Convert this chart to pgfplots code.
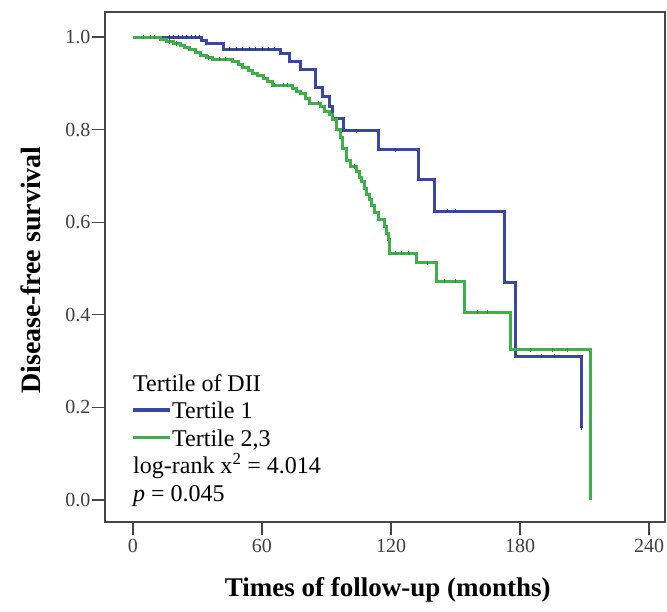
\documentclass[border=0pt]{standalone}
\usepackage{fontspec}
\setmainfont{Liberation Serif}
\usepackage{pgfplots}
\pgfplotsset{compat=1.18}

\definecolor{tblue}{RGB}{56,72,160}
\definecolor{tgreen}{RGB}{62,176,74}
\definecolor{frame}{RGB}{70,70,70}

\begin{document}
\begin{tikzpicture}[x=1pt,y=1pt]
\useasboundingbox (-105pt,-89pt) rectangle (562pt,522pt);
\begin{axis}[
  at={(0pt,0pt)}, anchor=south west,
  scale only axis,
  width=560pt, height=510pt,
  xmin=-13, xmax=247.4,
  ymin=-0.0475, ymax=1.054,
  xtick={0,60,120,180,240},
  ytick={0,0.2,0.4,0.6,0.8,1.0},
  yticklabel style={/pgf/number format/fixed, /pgf/number format/fixed zerofill,
    /pgf/number format/precision=1, xshift=2pt},
  /pgf/number format/assume math mode=true,
  tick align=outside,
  tick pos=left,
  major tick length=13pt,
  every tick/.style={frame, line width=1.3pt},
  axis line style={frame, line width=1.4pt},
  tick label style={font=\fontsize{20}{23}\selectfont, color=black!75},
  xticklabel style={yshift=-1pt},
  xlabel={Times of follow-up (months)},
  ylabel={Disease-free survival},
  xlabel style={font=\fontsize{27}{30}\selectfont\bfseries,
    at={(axis description cs:0.505,-0.133)}, anchor=center},
  ylabel style={font=\fontsize{28}{30}\selectfont\bfseries,
    at={(axis description cs:-0.132,0.494)}, anchor=center},
  clip=false,
]
% Tertile 1
\addplot[const plot, tblue, line width=3pt] coordinates {
  (0,1.0) (32,0.993) (34,0.987) (42,0.974) (68.4,0.965) (73,0.947)
  (77.7,0.929) (85,0.892) (88,0.871) (91.6,0.849) (93,0.824) (98,0.797)
  (114,0.756) (132.6,0.693) (140,0.624) (172.6,0.469) (177.7,0.311)
  (208.7,0.156)
};
% Tertile 2,3
\addplot[const plot, tgreen, line width=3pt] coordinates {
  (0,1.0) (12.6,0.995) (15.7,0.99) (19,0.986) (21.9,0.981) (24,0.977)
  (26.5,0.972) (29,0.966) (31.2,0.961) (34,0.956) (37.2,0.952) (46.5,0.947)
  (49,0.94) (51,0.935) (53.5,0.928) (55.8,0.922) (58,0.916) (60.5,0.911)
  (62.5,0.904) (64.7,0.896) (74,0.889) (76,0.883) (77.7,0.877) (80,0.867)
  (82.3,0.857) (87,0.849) (89,0.840) (91.6,0.832) (93,0.821) (94.5,0.80)
  (96.3,0.784) (97.5,0.76) (99.5,0.734) (101,0.72) (104,0.709) (105.2,0.697)
  (106.5,0.687) (107.7,0.672) (108.8,0.659) (110,0.648) (111,0.637)
  (112.5,0.62) (114,0.605) (117,0.59) (118,0.575) (118.6,0.562)
  (119.5,0.533) (132,0.512) (141,0.473) (154,0.406) (175.6,0.324)
  (212.9,0.0)
};
% censored
\addplot[only marks, mark=|, mark size=2.2pt, tblue!80!black, line width=0.8pt] coordinates {
  (17,1)(19,1)(21,1)(23,1)(25,1)(27,1)(29,1)(31,1)
  (45,0.974)(48,0.974)(51,0.974)(54,0.974)(57,0.974)(60,0.974)(63,0.974)(66,0.974)
  (104,0.797)(122,0.756)(146,0.624)(150,0.624)(190,0.311)(196,0.311)(208.7,0.156)
};
\addplot[only marks, mark=|, mark size=2.2pt, tgreen!80!black, line width=0.8pt] coordinates {
  (5,1)(8,1)(10,1)(17,0.99)(20,0.986)(35,0.956)(40,0.952)(43,0.952)
  (66,0.896)(70,0.896)(72,0.896)(86,0.857)(103,0.72)(122,0.533)(125,0.533)
  (128,0.533)(137,0.512)(145,0.473)(150,0.473)(160,0.406)(165,0.406)
  (185,0.324)(195,0.324)(202,0.324)
};
\node[anchor=north west, inner sep=0pt, align=left,
      font=\fontsize{24}{27.5}\selectfont]
  at (rel axis cs:0.05,0.29) {%
  Tertile of DII\\
  \textcolor{tblue}{\rule[0.28em]{37pt}{3.5pt}}\kern2ptTertile 1\\
  \textcolor{tgreen}{\rule[0.28em]{37pt}{3.5pt}}\kern2ptTertile 2,3\\
  log-rank x\textsuperscript{2} = 4.014\\
  \textit{p} = 0.045};
\end{axis}
\end{tikzpicture}
\end{document}
